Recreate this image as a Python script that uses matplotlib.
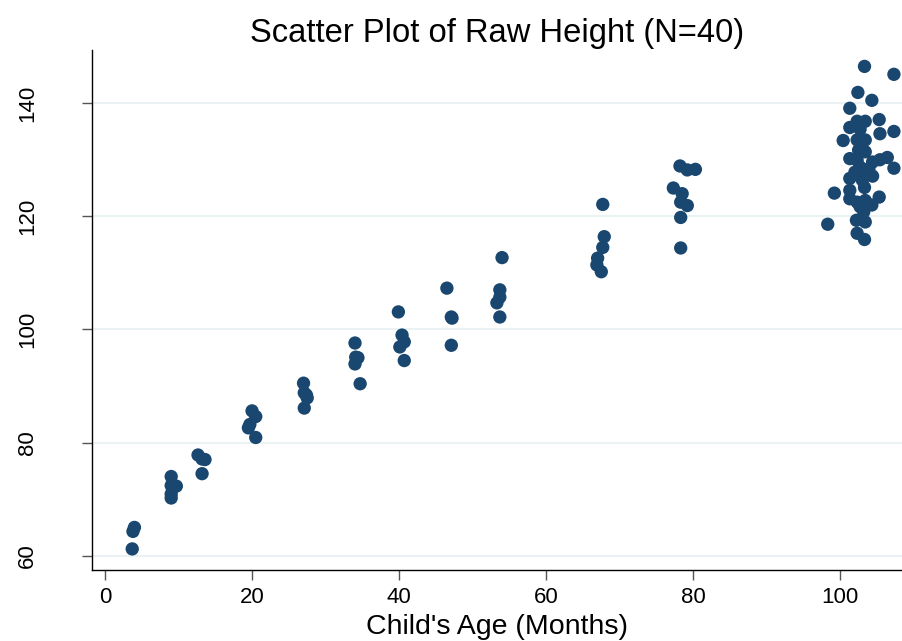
import matplotlib
matplotlib.use("Agg")
import matplotlib.pyplot as plt

plt.rcParams["font.family"] = ["Liberation Sans", "DejaVu Sans"]

# Child's age in months and measured height, grouped by visit
age_months = [
    4.0, 3.8, 3.7,
    9.0, 9.0, 9.7, 9.0, 9.0,
    12.65, 13.2, 13.6, 13.2,
    20.0, 20.5, 19.5, 19.7, 20.5,
    27.0, 27.1, 27.4, 27.5, 27.1,
    34.0, 34.1, 34.4, 34.0, 34.7,
    39.9, 40.4, 40.7, 40.1, 40.7,
    46.5, 47.1, 47.2, 47.1,
    54.0, 53.7, 53.7, 53.3, 53.7,
    67.7, 67.9, 67.7, 67.0, 66.9, 67.5,
    78.2, 79.2, 80.3, 77.3, 78.5, 78.3, 79.2, 78.3, 78.3,
    103.3, 107.3, 102.4, 104.3, 101.3, 105.3, 102.3, 103.4, 101.3, 102.7,
    105.4, 107.3, 100.4, 102.3, 103.4, 102.5, 103.4, 101.3, 102.3, 105.4,
    106.4, 104.4, 102.7, 103.9, 107.3, 102.0, 103.4, 104.4, 101.3, 103.0,
    103.3, 99.2, 101.3, 101.3, 105.3, 102.3, 103.4, 104.3, 102.7, 103.2,
    102.2, 103.4, 98.3, 102.3, 103.3,
]
height_cm = [
    65.0, 64.3, 61.2,
    74.0, 72.4, 72.3, 70.9, 70.2,
    77.8, 77.1, 77.0, 74.5,
    85.6, 84.6, 82.6, 83.2, 80.9,
    90.5, 88.8, 88.4, 87.9, 86.1,
    97.6, 95.1, 95.0, 93.9, 90.4,
    103.1, 99.0, 97.8, 96.9, 94.5,
    107.3, 102.2, 102.0, 97.2,
    112.7, 107.0, 105.7, 104.7, 102.2,
    122.1, 116.4, 114.5, 112.6, 111.4, 110.2,
    128.9, 128.2, 128.3, 125.0, 124.0, 122.5, 121.9, 119.8, 114.4,
    146.5, 145.1, 141.9, 140.5, 139.1, 137.1, 136.8, 136.8, 135.7, 135.4,
    134.6, 135.0, 133.4, 133.5, 133.5, 131.7, 131.4, 130.2, 129.9, 130.0,
    130.4, 129.6, 128.7, 128.4, 128.5, 127.8, 127.6, 127.1, 126.7, 126.4,
    125.1, 124.1, 124.6, 123.1, 123.4, 122.5, 122.8, 122.0, 121.7, 120.8,
    119.3, 119.0, 118.6, 117.0, 115.9,
]

x_ticks = [0, 20, 40, 60, 80, 100]
y_ticks = [60, 80, 100, 120, 140]

fig = plt.figure(figsize=(9.02, 6.41), dpi=100)
ax = fig.add_axes([0.102, 0.111, 0.898, 0.811])

ax.scatter(age_months, height_cm, s=92, color="#1a476f", edgecolors="none", zorder=3)

ax.set_xlim(-1.77, 108.4)
ax.set_ylim(57.5, 149.4)
ax.set_xticks(x_ticks)
ax.set_yticks(y_ticks)
ax.yaxis.grid(True, color="#eaf2f3", linewidth=1.5, zorder=0)
ax.set_axisbelow(True)

for side in ("top", "right"):
    ax.spines[side].set_visible(False)
for side in ("left", "bottom"):
    ax.spines[side].set_color("black")
    ax.spines[side].set_linewidth(1.0)

ax.tick_params(axis="both", labelsize=16, length=7, color="#555555", width=1.0)
ax.tick_params(axis="x", pad=5)
ax.tick_params(axis="y", pad=32)
for lbl in ax.get_yticklabels():
    lbl.set_rotation(90)
    lbl.set_va("center")

ax.set_title("Scatter Plot of Raw Height (N=40)", fontsize=23.6, pad=6)
ax.set_xlabel("Child's Age (Months)", fontsize=20.5, labelpad=5)

fig.savefig("out.png", dpi=100)
